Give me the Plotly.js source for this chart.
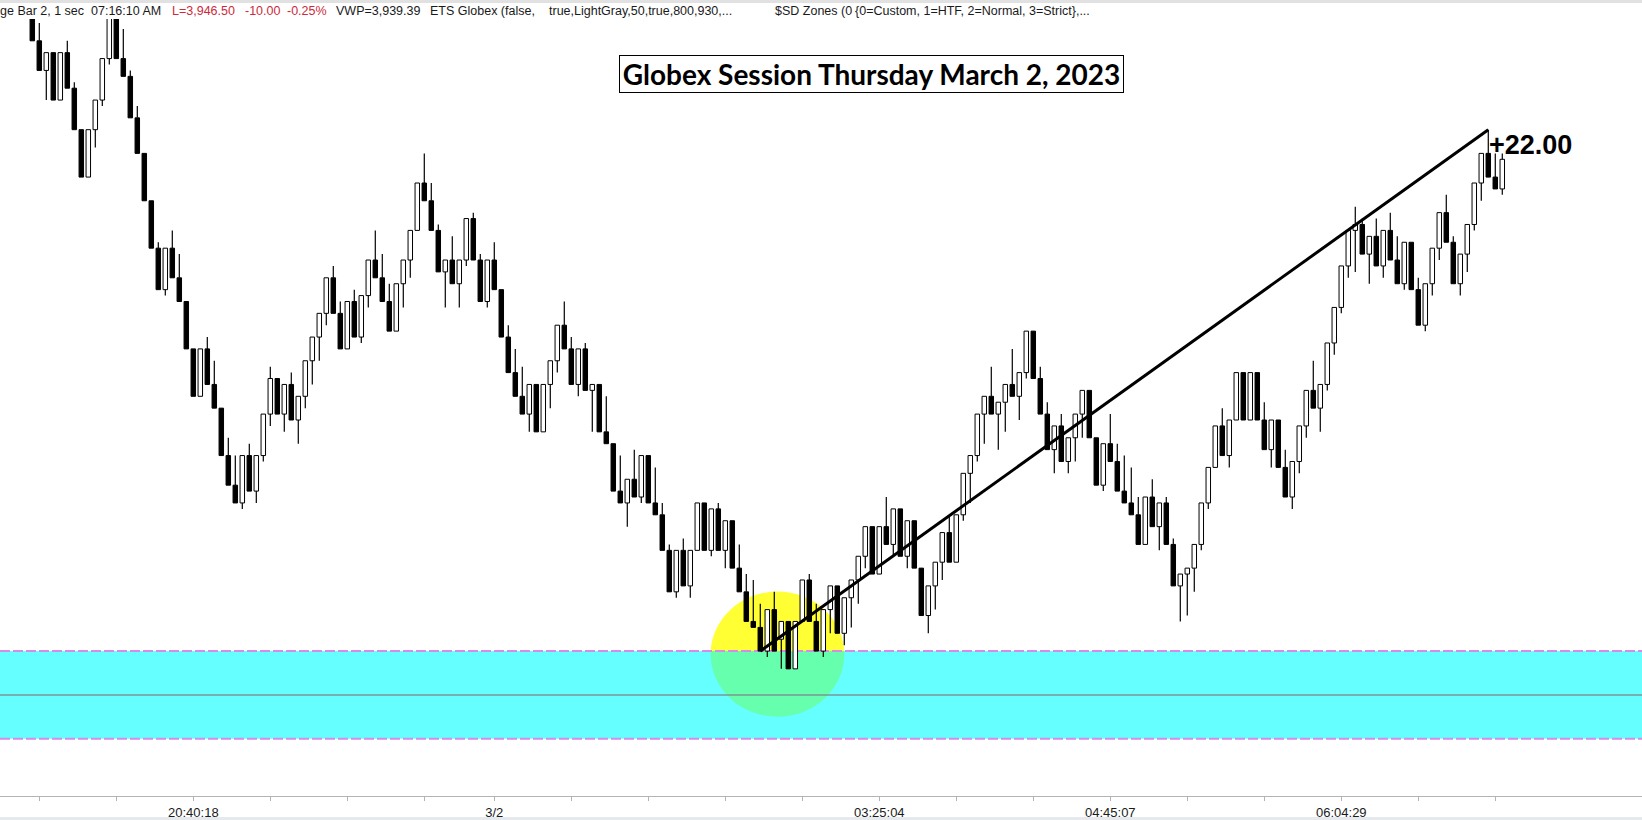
<!DOCTYPE html>
<html><head><meta charset="utf-8">
<script src="https://cdn.plot.ly/plotly-3.0.1.min.js"></script>
<style>html,body{margin:0;padding:0;background:#fff;}#chart{width:1642px;height:820px;}</style>
</head><body><div id="chart"></div>
<script>
// ---- data (range bars) ----
const opens = [
3953.0,3951.5,3950.25,3951.0,3949.0,3951.0,3949.5,3947.75,3945.75,3947.75,
3949.0,3950.75,3953.0,3950.75,3950.0,3948.25,3946.75,3944.75,3942.75,3941.0,
3942.75,3941.5,3940.5,3938.5,3936.5,3938.5,3937.0,3936.0,3934.0,3932.75,
3932.0,3934.0,3932.5,3934.0,3935.75,3937.25,3935.75,3937.0,3935.5,3936.5,
3938.0,3939.0,3940.0,3941.5,3940.0,3938.5,3940.5,3939.0,3940.75,3942.25,
3941.5,3940.5,3939.25,3941.25,3942.25,3943.5,3945.5,3944.75,3943.5,3941.75,
3942.25,3941.25,3942.25,3944.0,3942.25,3940.5,3942.25,3941.0,3939.0,3937.5,
3936.5,3935.75,3937.0,3935.0,3937.0,3938.0,3939.5,3938.5,3937.0,3938.5,
3936.75,3937.0,3935.0,3934.5,3932.5,3932.0,3933.0,3932.25,3934.0,3932.0,
3931.5,3930.0,3928.25,3930.0,3928.5,3930.0,3932.0,3930.0,3931.75,3930.0,
3931.25,3929.25,3928.25,3927.0,3926.75,3925.75,3927.5,3926.25,3927.0,3925.0,
3927.0,3928.75,3927.0,3925.75,3927.5,3928.5,3926.5,3928.0,3928.75,3929.75,
3931.0,3929.0,3931.0,3930.25,3931.75,3929.75,3931.25,3929.25,3927.25,3928.5,
3929.5,3930.75,3929.5,3931.5,3933.25,3934.0,3935.75,3936.5,3935.75,3936.25,
3937.0,3936.5,3937.5,3939.25,3937.25,3935.75,3934.25,3935.25,3933.75,3934.75,
3935.75,3936.75,3934.75,3932.75,3934.5,3933.75,3932.5,3932.0,3931.5,3930.25,
3932.25,3931.0,3932.0,3930.25,3928.5,3929.0,3929.25,3930.25,3932.0,3933.5,
3935.25,3934.0,3935.5,3937.5,3935.5,3937.5,3935.5,3934.25,3935.5,3933.5,
3932.25,3933.75,3935.25,3936.75,3936.0,3937.0,3938.75,3940.25,3942.0,3943.5,
3943.75,3942.5,3943.25,3942.0,3943.5,3942.25,3941.25,3943.0,3941.0,3939.5,
3941.25,3942.75,3944.25,3943.0,3941.25,3942.5,3943.75,3945.5,3946.75,3945.75,
3945.25];
const highs = [
3953.25,3952.25,3951.0,3951.0,3951.0,3951.5,3949.75,3947.75,3947.75,3949.0,
3950.75,3953.5,3953.5,3952.0,3950.25,3948.75,3946.75,3944.75,3943.0,3942.75,
3943.5,3942.5,3940.5,3938.5,3938.5,3939.0,3938.0,3936.0,3934.75,3934.0,
3934.0,3934.5,3934.0,3935.75,3937.75,3937.25,3937.0,3937.5,3936.5,3938.0,
3939.0,3940.0,3941.5,3942.0,3940.5,3940.5,3941.0,3940.75,3942.25,3943.5,
3942.5,3941.25,3941.25,3942.25,3943.5,3945.5,3946.75,3945.5,3943.75,3942.25,
3943.25,3942.25,3944.0,3944.25,3942.5,3942.25,3943.0,3941.0,3939.5,3938.5,
3937.75,3937.0,3937.0,3937.0,3938.0,3939.5,3940.5,3939.0,3938.5,3938.75,
3937.0,3937.0,3936.5,3934.5,3934.0,3933.0,3934.25,3934.0,3934.0,3933.5,
3932.0,3930.25,3930.0,3930.5,3930.0,3932.0,3932.0,3931.75,3932.0,3931.25,
3931.25,3930.25,3929.0,3928.75,3927.75,3927.5,3928.25,3927.0,3927.0,3927.0,
3928.75,3929.0,3927.75,3927.5,3928.5,3928.5,3928.0,3928.75,3929.75,3931.0,
3931.0,3931.0,3932.25,3931.75,3931.75,3931.25,3931.25,3929.25,3928.5,3929.5,
3930.75,3931.5,3931.5,3933.25,3934.0,3935.75,3936.5,3937.75,3936.25,3937.0,
3938.5,3937.5,3939.25,3939.25,3937.75,3936.25,3935.25,3935.75,3934.75,3935.75,
3936.75,3936.75,3934.75,3934.5,3935.75,3934.5,3934.0,3933.5,3932.25,3932.25,
3933.0,3932.0,3932.25,3930.5,3929.0,3929.25,3930.25,3932.0,3933.5,3935.25,
3936.0,3935.5,3937.5,3937.5,3937.5,3937.5,3936.25,3935.5,3935.5,3934.25,
3933.75,3935.25,3936.75,3938.0,3937.0,3938.75,3940.25,3942.0,3943.5,3944.5,
3944.0,3943.25,3944.0,3943.5,3944.25,3943.25,3943.0,3943.0,3941.5,3941.25,
3942.75,3944.25,3945.0,3943.25,3942.5,3943.75,3945.5,3946.75,3947.75,3946.75,
3946.75];
const lows = [
3951.5,3950.25,3949.0,3949.0,3949.0,3949.5,3947.75,3945.75,3945.75,3947.0,
3948.75,3950.5,3950.75,3950.0,3948.25,3946.75,3944.75,3942.75,3941.0,3940.75,
3941.5,3940.5,3938.5,3936.5,3936.5,3937.0,3936.0,3934.0,3932.75,3932.0,
3931.75,3932.5,3932.0,3933.75,3935.25,3935.75,3935.0,3935.5,3934.5,3936.0,
3937.0,3938.0,3939.5,3940.0,3938.5,3938.5,3939.0,3938.75,3940.25,3941.5,
3940.5,3939.25,3939.25,3940.25,3941.5,3943.5,3944.75,3943.5,3941.75,3940.25,
3941.25,3940.25,3942.0,3942.25,3940.5,3940.25,3941.0,3939.0,3937.5,3936.5,
3935.75,3935.0,3935.0,3935.0,3936.0,3937.5,3938.5,3937.0,3936.5,3936.75,
3935.0,3935.0,3934.5,3932.5,3932.0,3931.0,3932.25,3932.0,3932.0,3931.5,
3930.0,3928.25,3928.0,3928.5,3928.0,3930.0,3930.0,3929.75,3930.0,3929.25,
3929.25,3928.25,3927.0,3926.75,3925.75,3925.5,3925.75,3925.0,3925.0,3925.0,
3927.0,3927.0,3925.75,3925.5,3926.5,3926.5,3926.0,3926.75,3927.75,3929.25,
3929.0,3929.0,3930.25,3929.75,3929.75,3929.25,3929.25,3927.25,3926.5,3927.5,
3928.75,3929.5,3929.5,3931.25,3932.0,3933.75,3934.5,3935.75,3934.25,3935.0,
3936.5,3935.5,3937.25,3937.25,3935.75,3934.25,3933.25,3933.75,3933.25,3933.75,
3934.75,3934.75,3932.75,3932.5,3933.75,3932.5,3932.0,3931.5,3930.25,3930.25,
3931.0,3930.0,3930.25,3928.5,3927.0,3927.25,3928.25,3930.0,3931.75,3933.5,
3934.0,3933.5,3935.5,3935.5,3935.5,3935.5,3934.25,3933.5,3933.5,3932.25,
3931.75,3933.25,3934.75,3936.0,3935.0,3936.75,3938.25,3940.0,3941.5,3941.75,
3942.5,3941.25,3942.0,3941.5,3942.25,3941.25,3941.0,3941.0,3939.5,3939.25,
3940.75,3942.25,3943.0,3941.25,3940.75,3941.75,3943.5,3944.75,3945.75,3945.25,
3945.0];
const closes = [
3951.5,3950.25,3951.0,3949.0,3951.0,3949.5,3947.75,3945.75,3947.75,3949.0,
3950.75,3953.0,3950.75,3950.0,3948.25,3946.75,3944.75,3942.75,3941.0,3942.75,
3941.5,3940.5,3938.5,3936.5,3938.5,3937.0,3936.0,3934.0,3932.75,3932.0,
3934.0,3932.5,3934.0,3935.75,3937.25,3935.75,3937.0,3935.5,3936.5,3938.0,
3939.0,3940.0,3941.5,3940.0,3938.5,3940.5,3939.0,3940.75,3942.25,3941.5,
3940.5,3939.25,3941.25,3942.25,3943.5,3945.5,3944.75,3943.5,3941.75,3942.25,
3941.25,3942.25,3944.0,3942.25,3940.5,3942.25,3941.0,3939.0,3937.5,3936.5,
3935.75,3937.0,3935.0,3937.0,3938.0,3939.5,3938.5,3937.0,3938.5,3936.75,
3937.0,3935.0,3934.5,3932.5,3932.0,3933.0,3932.25,3934.0,3932.0,3931.5,
3930.0,3928.25,3930.0,3928.5,3930.0,3932.0,3930.0,3931.75,3930.0,3931.25,
3929.25,3928.25,3927.0,3926.75,3925.75,3927.5,3925.75,3927.0,3925.0,3927.0,
3928.75,3927.0,3925.75,3927.5,3928.5,3926.5,3928.0,3928.75,3929.75,3931.0,
3929.0,3931.0,3930.25,3931.75,3929.75,3931.25,3929.25,3927.25,3928.5,3929.5,
3930.75,3929.5,3931.5,3933.25,3934.0,3935.75,3936.5,3935.75,3936.25,3937.0,
3936.5,3937.5,3939.25,3937.25,3935.75,3934.25,3935.25,3933.75,3934.75,3935.75,
3936.75,3934.75,3932.75,3934.5,3933.75,3932.5,3932.0,3931.5,3930.25,3932.25,
3931.0,3932.0,3930.25,3928.5,3929.0,3929.25,3930.25,3932.0,3933.5,3935.25,
3934.0,3935.5,3937.5,3935.5,3937.5,3935.5,3934.25,3935.5,3933.5,3932.25,
3933.75,3935.25,3936.75,3936.0,3937.0,3938.75,3940.25,3942.0,3943.5,3943.75,
3942.5,3943.25,3942.0,3943.5,3942.25,3941.25,3943.0,3941.0,3939.5,3941.25,
3942.75,3944.25,3943.0,3941.25,3942.5,3943.75,3945.5,3946.75,3945.75,3945.25,
3946.5];

// x-axis ticks (bar index) and their labels
const tickBars   = [1,12,23,34,45,56,66,77,88,99,110,121,132,143,154,165,176,187,198,209];
const tickLabels = ['','','20:40:18','','','','3/2','','','','','03:25:04','','','04:45:07','','','06:04:29','',''];

// supply/demand zone and annotations
const zoneTop = 3925.75, zoneMid = 3923.9, zoneBottom = 3922.05;
const circleBars = [96.9, 116.0], circlePrices = [3922.98, 3928.26];
const trendFromBar = 104, trendToBar = 208;

const titleText = 'Globex Session Thursday March 2, 2023';
const headerParts = [
  {t:'ge Bar 2, 1 sec', px:0, red:false},
  {t:'07:16:10 AM', px:91, red:false},
  {t:'L=3,946.50', px:172, red:true},
  {t:'-10.00', px:245, red:true},
  {t:'-0.25%', px:287, red:true},
  {t:'VWP=3,939.39', px:336, red:false},
  {t:'ETS Globex (false,', px:430, red:false},
  {t:'true,LightGray,50,true,800,930,...', px:549, red:false},
  {t:'$SD Zones (0', px:775, red:false},
  {t:'{0=Custom, 1=HTF, 2=Normal, 3=Strict},...', px:855, red:false}
];

// ---- build ----
const W = 1642, H = 820, plotTop = 19, plotBottom = 796;
const xRange = [-4.614, 229.96], yRange = [3919.635, 3952.42];
const bars = opens.map((_, i) => i);

// wicks: only the parts outside the body, so white bodies stay white
const wx = [], wy = [];
bars.forEach(i => {
  const top = Math.max(opens[i], closes[i]), bot = Math.min(opens[i], closes[i]);
  if (highs[i] > top) { wx.push(i, i, null); wy.push(top, highs[i], null); }
  if (lows[i] < bot) { wx.push(i, i, null); wy.push(lows[i], bot, null); }
});

const wicks = {type:'scatter', mode:'lines', x:wx, y:wy, line:{color:'#000', width:1.2}, hoverinfo:'skip'};
const bodies = {
  type:'bar', x:bars, base:opens, y:bars.map(i => closes[i] - opens[i]), width:0.64,
  marker:{color:bars.map(i => closes[i] >= opens[i] ? '#ffffff' : '#000000'), line:{color:'#000', width:1}},
  hoverinfo:'skip'
};

const py = p => (plotBottom - p) / (plotBottom - plotTop); // pixel row -> paper y
const annotations = headerParts.map(h => ({
  xref:'paper', yref:'paper', x:h.px / W, y:py(11.5), xanchor:'left', yanchor:'middle',
  text:h.t, showarrow:false, borderpad:0, borderwidth:0,
  font:{family:'Liberation Sans, Arial, sans-serif', size:12.5, color:h.red ? '#cc2a3a' : '#1a1a1a'}
}));
annotations.push({
  xref:'paper', yref:'paper', x:871.5 / W, y:py(74), xanchor:'center', yanchor:'middle',
  text:'<b>' + titleText + '</b>', showarrow:false, bgcolor:'#fff', bordercolor:'#000', borderwidth:1,
  borderpad:0, width:503, height:36,
  font:{family:'Lato, sans-serif', size:28, color:'#000'}
});
const gain = highs[trendToBar] - lows[trendFromBar];
annotations.push({
  xref:'x', yref:'y', x:trendToBar + 0.1, y:3947.1, xanchor:'left', yanchor:'middle',
  text:'<b>+' + gain.toFixed(2) + '</b>', showarrow:false, borderpad:0, borderwidth:0,
  font:{family:'Liberation Sans, Arial, sans-serif', size:27, color:'#000'}
});

const shapes = [
  {type:'circle', layer:'below', xref:'x', yref:'y', x0:circleBars[0], x1:circleBars[1], y0:circlePrices[0], y1:circlePrices[1],
   fillcolor:'rgb(255,255,51)', line:{width:0}},
  {type:'rect', layer:'below', xref:'x', yref:'y', x0:xRange[0], x1:xRange[1], y0:zoneBottom, y1:zoneTop,
   fillcolor:'rgba(0,255,255,0.6)', line:{width:0}},
  {type:'line', layer:'below', xref:'x', yref:'y', x0:xRange[0], x1:xRange[1], y0:zoneMid, y1:zoneMid, line:{color:'rgb(125,150,150)', width:1.5}},
  {type:'line', layer:'below', xref:'x', yref:'y', x0:xRange[0], x1:xRange[1], y0:zoneTop, y1:zoneTop, line:{color:'rgb(212,140,232)', width:2, dash:'10px,3px'}},
  {type:'line', layer:'below', xref:'x', yref:'y', x0:xRange[0], x1:xRange[1], y0:zoneBottom, y1:zoneBottom, line:{color:'rgb(212,140,232)', width:2, dash:'10px,3px'}},
  {type:'line', layer:'above', xref:'x', yref:'y', x0:trendFromBar, y0:lows[trendFromBar], x1:trendToBar, y1:highs[trendToBar],
   line:{color:'#000', width:3}},
  {type:'rect', layer:'above', xref:'paper', yref:'paper', x0:0, x1:1, y0:py(0), y1:py(3), fillcolor:'#e1e1e1', line:{width:0}},
  {type:'rect', layer:'above', xref:'paper', yref:'paper', x0:0, x1:1, y0:py(817), y1:py(821), fillcolor:'#e6eaee', line:{width:0}}
];

const layout = {
  width:W, height:H, margin:{l:0, r:0, t:plotTop, b:H - plotBottom},
  paper_bgcolor:'#fff', plot_bgcolor:'#fff', showlegend:false, hovermode:false,
  xaxis:{range:xRange, showgrid:false, zeroline:false, showline:true, linecolor:'#b4b4b4', linewidth:1,
         ticks:'outside', ticklen:4, tickcolor:'#b4b4b4', tickmode:'array', tickvals:tickBars, ticktext:tickLabels,
         tickfont:{family:'Liberation Sans, Arial, sans-serif', size:13, color:'#1a1a1a'}, fixedrange:true},
  yaxis:{range:yRange, visible:false, showgrid:false, zeroline:false, fixedrange:true},
  shapes:shapes, annotations:annotations
};

Plotly.newPlot('chart', [wicks, bodies], layout, {displayModeBar:false, staticPlot:true});
</script></body></html>
